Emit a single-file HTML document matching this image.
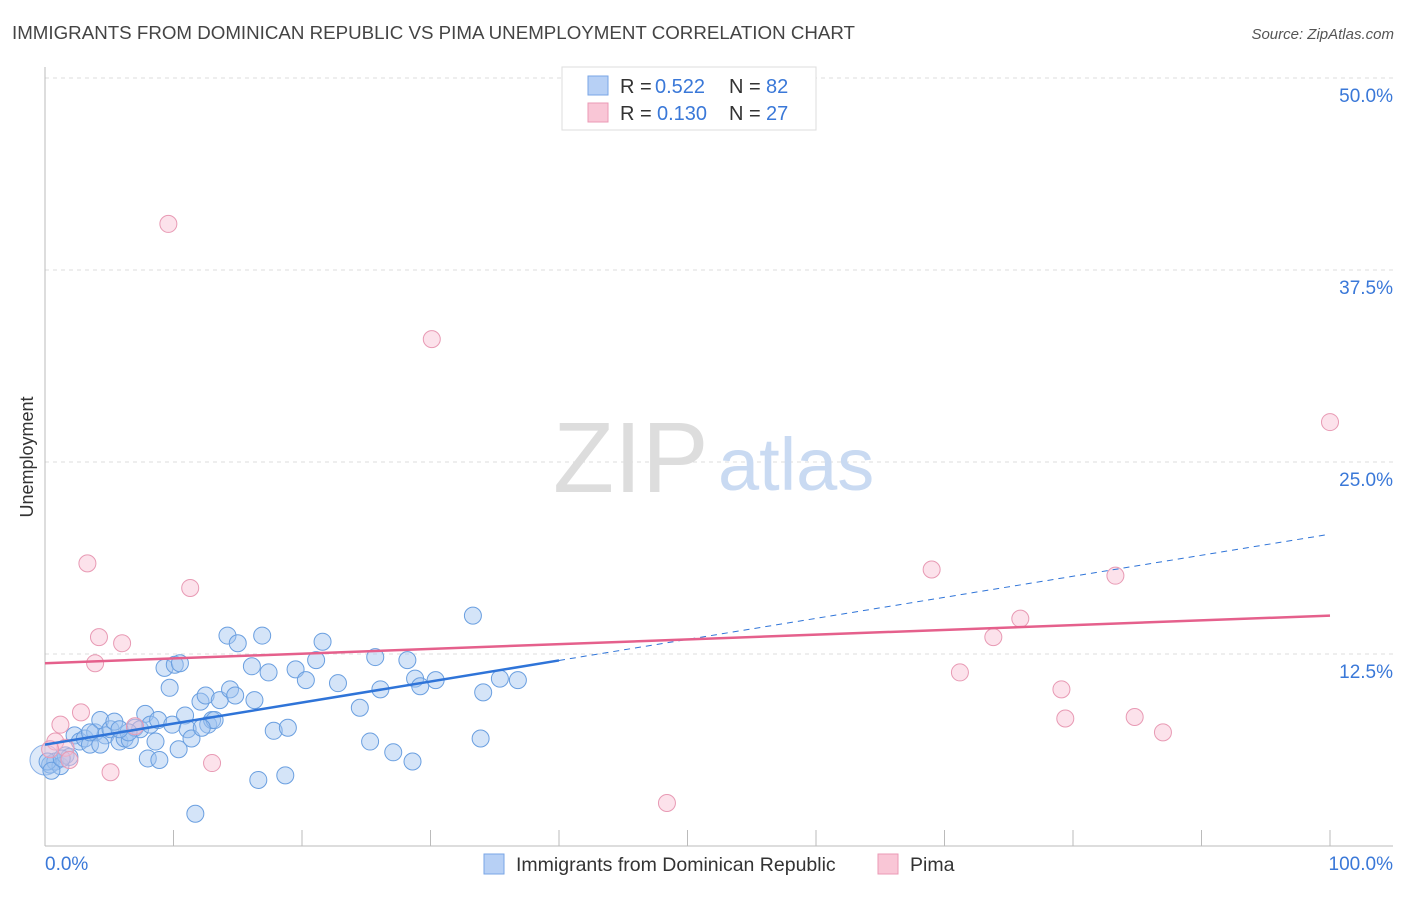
<!DOCTYPE html>
<html><head><meta charset="utf-8"><style>
body{margin:0;background:#fff;font-family:"Liberation Sans",sans-serif;}
svg text{font-family:"Liberation Sans",sans-serif;}
</style></head><body>
<svg id="chart" width="1406" height="892" xmlns="http://www.w3.org/2000/svg">
<text x="12" y="39" font-size="18" fill="#444" textLength="843" lengthAdjust="spacingAndGlyphs">IMMIGRANTS FROM DOMINICAN REPUBLIC VS PIMA UNEMPLOYMENT CORRELATION CHART</text>
<text x="1394" y="39" font-size="15" fill="#555" font-style="italic" text-anchor="end">Source: ZipAtlas.com</text>
<g id="grid"></g>
<g>
<text x="553" y="492" font-size="100" font-family="Liberation Serif" fill="#ddd">ZIP</text>
<text x="718" y="490" font-size="74" fill="#c9daf2">atlas</text>
</g>
<text transform="translate(33,457) rotate(-90)" font-size="18" fill="#333" text-anchor="middle">Unemployment</text>
<g id="marks"></g>
<g>
<rect x="562" y="67" width="254" height="63" fill="#fff" stroke="#ddd"/>
<rect x="588" y="76" width="20" height="19" fill="#b7d0f5" stroke="#7aa6e6"/>
<text x="620" y="93" font-size="20" fill="#333">R = </text><text x="655" y="93" font-size="20" fill="#3a78d8">0.522</text>
<text x="729" y="93" font-size="20" fill="#333">N = </text><text x="766" y="93" font-size="20" fill="#3a78d8">82</text>
<rect x="588" y="103" width="20" height="19" fill="#f9c6d6" stroke="#eb9ab5"/>
<text x="620" y="120" font-size="20" fill="#333">R = </text><text x="657" y="120" font-size="20" fill="#3a78d8">0.130</text>
<text x="729" y="120" font-size="20" fill="#333">N = </text><text x="766" y="120" font-size="20" fill="#3a78d8">27</text>
</g>
<g>
<rect x="484" y="854" width="20" height="20" fill="#b7d0f5" stroke="#7aa6e6"/>
<text x="516" y="871" font-size="19.5" fill="#333">Immigrants from Dominican Republic</text>
<rect x="878" y="854" width="20" height="20" fill="#f9c6d6" stroke="#eb9ab5"/>
<text x="910" y="871" font-size="19.5" fill="#333">Pima</text>
</g>
</svg>
<script>
const yTicks=[12.5,25,37.5,50];
const yTickLabels=["12.5%","25.0%","37.5%","50.0%"];
const xTickLabels=["0.0%","100.0%"];
const blueX=[0.4,0.8,1.2,1.6,1.9,2.3,2.7,3.1,3.5,3.9,4.3,4.7,5.1,5.4,5.8,6.2,6.6,7.0,7.4,7.8,8.2,8.6,8.0,8.8,8.9,9.3,9.7,9.9,10.1,10.4,10.5,10.9,11.1,11.4,11.7,12.1,12.5,12.7,13.0,13.2,13.6,14.2,14.4,14.8,15.0,16.1,16.3,16.6,16.9,17.4,17.8,18.7,18.9,19.5,20.3,21.1,21.6,22.8,24.5,25.3,25.7,26.1,27.1,28.2,28.6,28.8,29.2,30.4,33.3,33.9,34.1,35.4,36.8,0.2,0.5,4.3,1.3,3.5,6.5,12.2,5.8];
const blueY=[5.3,5.5,5.2,5.9,5.8,7.2,6.8,7.0,6.6,7.4,8.2,7.2,7.6,8.1,6.8,7.0,6.9,7.7,7.6,8.6,7.9,6.8,5.7,8.2,5.6,11.6,10.3,7.9,11.8,6.3,11.9,8.5,7.6,7.0,2.1,9.4,9.8,7.9,8.2,8.2,9.5,13.7,10.2,9.8,13.2,11.7,9.5,4.3,13.7,11.3,7.5,4.6,7.7,11.5,10.8,12.1,13.3,10.6,9.0,6.8,12.3,10.2,6.1,12.1,5.5,10.9,10.4,10.8,15.0,7.0,10.0,10.9,10.8,5.5,4.9,6.6,5.7,7.4,7.4,7.7,7.6];
const pinkX=[9.6,30.1,3.3,11.3,4.2,6.0,3.9,2.8,1.2,0.8,1.6,7.0,5.1,13.0,48.4,69.0,83.3,100,75.9,73.8,71.2,79.1,79.4,84.8,87.0,0.4,1.9];
const pinkY=[40.5,33.0,18.4,16.8,13.6,13.2,11.9,8.7,7.9,6.8,6.4,7.8,4.8,5.4,2.8,18.0,17.6,27.6,14.8,13.6,11.3,10.2,8.3,8.4,7.4,6.3,5.6];
const blueTrend=[6.6,0.137];
const pinkTrend=[11.9,0.031];
const NS="http://www.w3.org/2000/svg";
const X0=45,X1=1330,Y0=846,PX=15.36;
const sx=v=>X0+v*(X1-X0)/100;
const sy=v=>Y0-v*PX;
function mk(tag,attrs,parent){const e=document.createElementNS(NS,tag);for(const k in attrs)e.setAttribute(k,attrs[k]);parent.appendChild(e);return e;}
const grid=document.getElementById('grid');
yTicks.forEach((t,i)=>{
 const l=mk('line',{x1:X0,x2:1393,y1:sy(t),y2:sy(t),stroke:'#ddd','stroke-dasharray':'4,4'},grid);
 
 
 const tx=mk('text',{x:1393,y:sy(t)+24,'font-size':19,fill:'#3a78d8','text-anchor':'end'},grid);
 tx.textContent=yTickLabels[i];
 
 
});
mk('line',{x1:X0,x2:X0,y1:67,y2:Y0,stroke:'#bbb'},grid);
mk('line',{x1:X0,x2:1393,y1:Y0,y2:Y0,stroke:'#bbb'},grid);
for(let i=0;i<=10;i++){const tk=mk('line',{x1:sx(i*10),x2:sx(i*10),y1:830,y2:Y0,stroke:'#bbb'},grid);
 
 }
const xl0=mk('text',{x:45,y:870,'font-size':19,fill:'#3a78d8'},grid);xl0.textContent=xTickLabels[0];


const xl1=mk('text',{x:1393,y:870,'font-size':19,fill:'#3a78d8','text-anchor':'end'},grid);xl1.textContent=xTickLabels[1];


const marks=document.getElementById('marks');
const big=mk('circle',{cx:sx(0),cy:sy(5.6),r:15,fill:'rgba(170,200,240,0.4)',stroke:'#8ab2e8','stroke-width':1},marks);


blueX.forEach((x,i)=>{const c=mk('circle',{cx:sx(x),cy:sy(blueY[i]),r:8.5,fill:'rgba(160,195,240,0.45)',stroke:'#6a9fe0','stroke-width':1},marks);
 
 });
pinkX.forEach((x,i)=>{const c=mk('circle',{cx:sx(x),cy:sy(pinkY[i]),r:8.5,fill:'rgba(248,190,210,0.45)',stroke:'#e89ab4','stroke-width':1},marks);
 
 });
const bt=x=>blueTrend[0]+blueTrend[1]*x, pt=x=>pinkTrend[0]+pinkTrend[1]*x;
const l1=mk('line',{x1:sx(0),y1:sy(bt(0)),x2:sx(40),y2:sy(bt(40)),stroke:'#2f74d8','stroke-width':2.5},marks);


const l2=mk('line',{x1:sx(40),y1:sy(bt(40)),x2:sx(99.6),y2:sy(bt(99.6)),stroke:'#2f74d8','stroke-width':1,'stroke-dasharray':'6,5'},marks);


const l3=mk('line',{x1:sx(0),y1:sy(pt(0)),x2:sx(100),y2:sy(pt(100)),stroke:'#e5608c','stroke-width':2.5},marks);


</script>
</body></html>
